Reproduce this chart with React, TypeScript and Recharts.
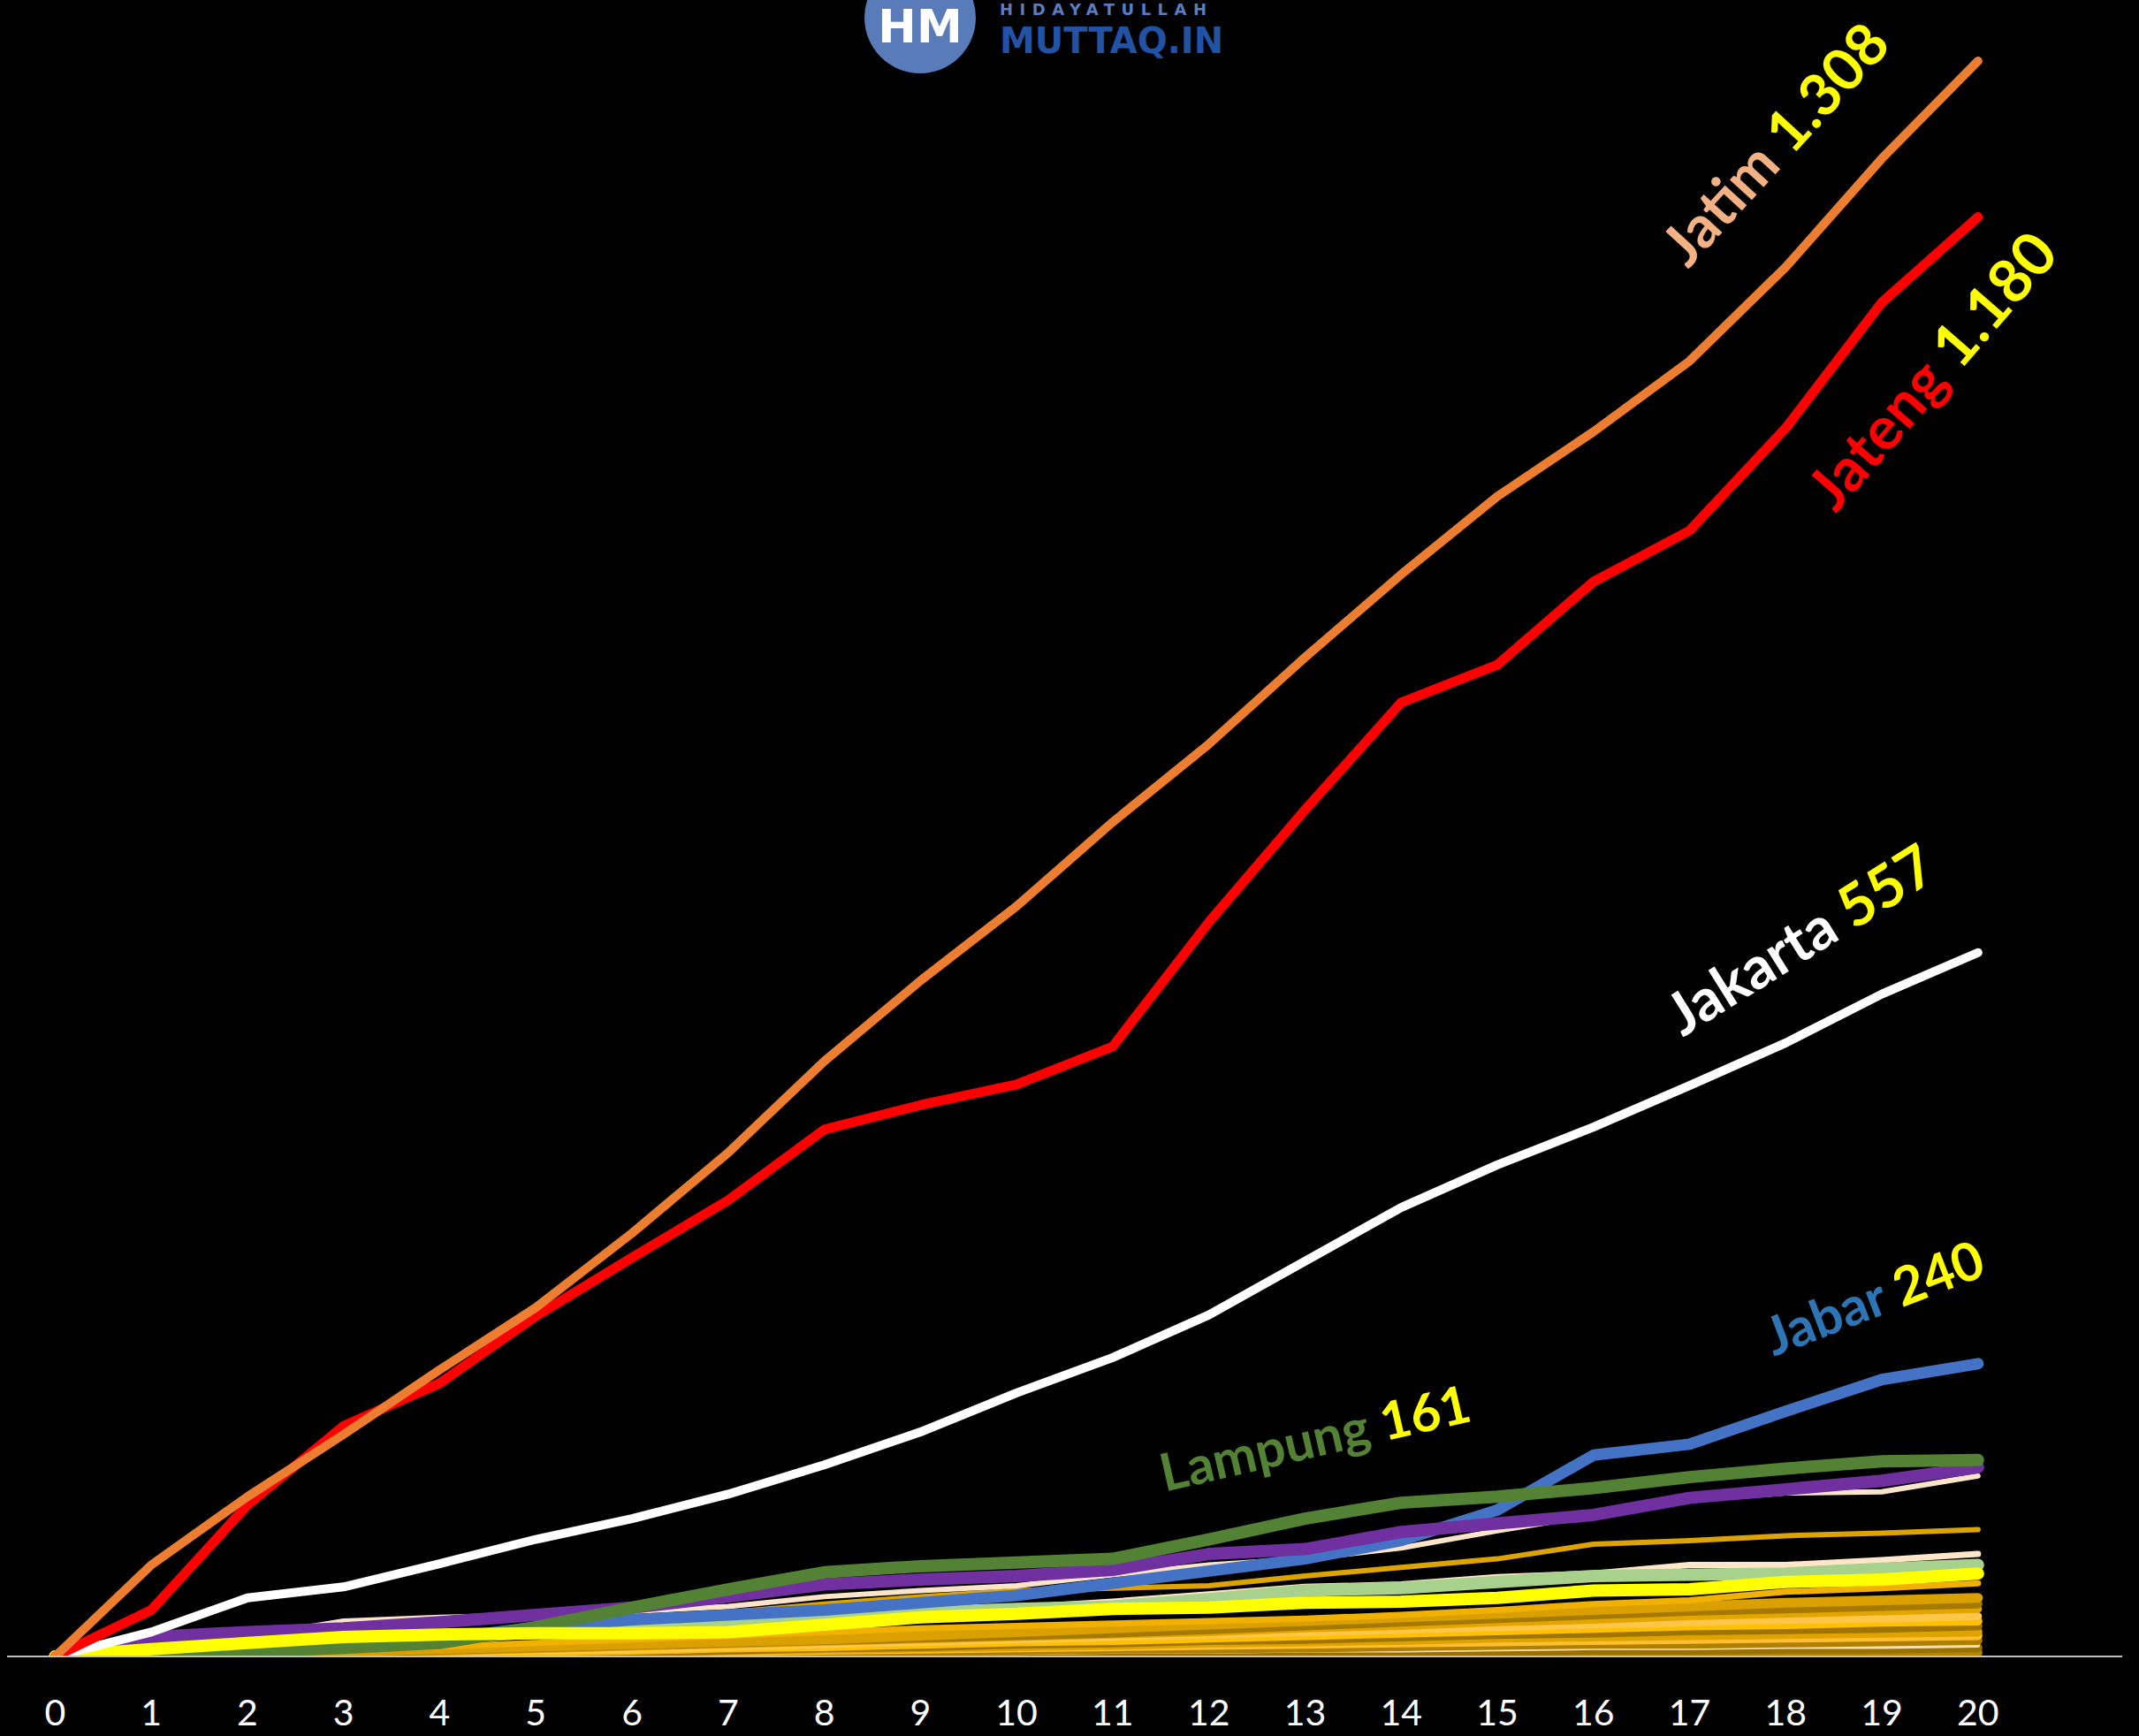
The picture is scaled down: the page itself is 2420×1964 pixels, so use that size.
import React from "react";
import { LineChart, Line, XAxis, YAxis, LabelList } from "recharts";

const W = 2420;
const H = 1964;
const PLOT_BOTTOM = 1874;

const days = [0, 1, 2, 3, 4, 5, 6, 7, 8, 9, 10, 11, 12, 13, 14, 15, 16, 17, 18, 19, 20];

const jatim = [0, 75, 131, 182, 235, 286, 347, 413, 488, 554, 615, 684, 748, 819, 887, 951, 1004, 1062, 1139, 1228, 1308];
const jateng = [0, 38, 124, 189, 224, 279, 327, 374, 432, 452, 469, 500, 602, 694, 782, 813, 881, 923, 1007, 1110, 1180];
const jakarta = [0, 20, 48, 57, 76, 96, 113, 133, 157, 184, 216, 245, 280, 324, 368, 403, 434, 468, 503, 543, 577];
const jabar = [0, 3, 6, 9, 14, 24, 30, 34, 38, 44, 50, 60, 70, 80, 95, 120, 165, 174, 201, 227, 240];
const lampung = [0, 2, 4, 7, 11, 24, 40, 55, 69, 74, 77, 80, 96, 113, 126, 131, 138, 147, 154, 160, 161];
const ungu = [0, 16, 20, 23, 28, 34, 40, 49, 59, 63, 66, 71, 84, 88, 102, 109, 116, 130, 137, 144, 155];
const krem1 = [0, 8, 16, 29, 32, 34, 37, 41, 49, 54, 58, 67, 75, 80, 89, 103, 116, 128, 134, 135, 148];
const emas1 = [0, 7, 10, 14, 17, 22, 28, 36, 43, 49, 54, 56, 58, 66, 73, 80, 92, 95, 99, 101, 104];
const krem2 = [0, 5, 9, 12, 16, 19, 23, 27, 31, 35, 40, 45, 51, 57, 59, 65, 68, 75, 75, 79, 84];
const hijauMuda = [0, 4, 8, 11, 15, 20, 26, 28, 31, 36, 39, 41, 47, 54, 56, 61, 66, 67, 68, 72, 75];
const kuning = [0, 6, 11, 16, 18, 19, 19, 20, 26, 32, 35, 39, 40, 44, 45, 48, 54, 55, 61, 63, 68];
const emas2 = [0, 2, 4, 6, 8, 11, 14, 17, 20, 23, 25, 27, 29, 31, 34, 38, 43, 46, 53, 56, 60];
const g3 = [0, 1, 2, 4, 6, 8, 10, 12, 14, 17, 20, 23, 26, 29, 32, 35, 38, 41, 44, 46, 48];
const g4 = [0, 1, 2, 3, 5, 7, 9, 11, 13, 15, 17, 19, 22, 25, 28, 31, 34, 37, 39, 41, 43];
const g5 = [0, 1, 2, 3, 4, 6, 8, 10, 12, 14, 16, 18, 20, 23, 25, 28, 30, 33, 35, 37, 39];
const g6 = [0, 1, 1, 2, 3, 5, 6, 8, 10, 12, 14, 16, 18, 20, 22, 24, 26, 28, 30, 31, 33];
const g7 = [0, 0, 1, 2, 3, 4, 5, 7, 8, 10, 12, 13, 15, 17, 19, 21, 23, 25, 26, 28, 29];
const g8 = [0, 0, 1, 2, 2, 3, 4, 5, 7, 8, 10, 11, 13, 14, 16, 18, 19, 21, 22, 23, 25];
const g9 = [0, 0, 1, 1, 2, 3, 4, 5, 6, 7, 8, 9, 11, 12, 13, 15, 16, 17, 18, 19, 20];
const g10 = [0, 0, 0, 1, 1, 2, 3, 4, 5, 6, 7, 8, 9, 10, 11, 12, 13, 14, 15, 16, 17];
const g11 = [0, 0, 0, 1, 1, 2, 2, 3, 3, 4, 5, 6, 6, 7, 8, 9, 10, 10, 11, 12, 13];
const g12 = [0, 0, 0, 0, 1, 1, 1, 2, 2, 3, 3, 4, 4, 5, 5, 6, 7, 7, 8, 8, 9];
const g13 = [0, 0, 0, 0, 0, 1, 1, 1, 2, 2, 2, 3, 3, 4, 4, 4, 5, 5, 6, 6, 7];
const g14 = [0, 0, 0, 0, 0, 0, 0, 1, 1, 1, 1, 1, 2, 2, 2, 2, 2, 3, 3, 3, 3];
const g15 = [0, 0, 0, 0, 0, 0, 0, 0, 0, 0, 0, 0, 0, 0, 0, 1, 1, 1, 1, 1, 1];

const seriesValues: Record<string, number[]> = {
  jatim, jateng, jakarta, jabar, lampung, ungu, krem1, emas1, krem2, hijauMuda, kuning, emas2,
  g3, g4, g5, g6, g7, g8, g9, g10, g11, g12, g13, g14, g15,
};

const data = days.map((d, i) => {
  const row: Record<string, number> = { day: d };
  Object.keys(seriesValues).forEach((k) => {
    row[k] = seriesValues[k][i];
  });
  return row;
});

// draw order: first = bottom
const lineStyles: { key: string; color: string; width: number }[] = [
  { key: "g15", color: "#FFD27F", width: 7 },
  { key: "g14", color: "#B38600", width: 10 },
  { key: "g13", color: "#9A7000", width: 10 },
  { key: "g12", color: "#FFE0B0", width: 5 },
  { key: "g11", color: "#AE7F00", width: 10 },
  { key: "g10", color: "#FFBF30", width: 10 },
  { key: "g9", color: "#DFA300", width: 10 },
  { key: "g8", color: "#A07400", width: 10 },
  { key: "g7", color: "#FFC000", width: 10 },
  { key: "g6", color: "#FFC64A", width: 9 },
  { key: "g5", color: "#E3A600", width: 9 },
  { key: "g4", color: "#A67A00", width: 10 },
  { key: "g3", color: "#D9A000", width: 11 },
  { key: "emas2", color: "#F2B000", width: 7 },
  { key: "krem2", color: "#FFE6C8", width: 7 },
  { key: "hijauMuda", color: "#A9D18E", width: 14 },
  { key: "emas1", color: "#DDA400", width: 6 },
  { key: "krem1", color: "#FCE4CA", width: 6 },
  { key: "jabar", color: "#4472C4", width: 13 },
  { key: "ungu", color: "#7030A0", width: 14 },
  { key: "lampung", color: "#548235", width: 14 },
  { key: "kuning", color: "#FFFF00", width: 14 },
  { key: "jakarta", color: "#FFFFFF", width: 10 },
  { key: "jateng", color: "#FF0000", width: 11 },
  { key: "jatim", color: "#ED7D31", width: 10 },
];

type LabelCfg = {
  name: string;
  value: string;
  color: string;
  index: number;
  dx: number;
  dy: number;
  angle: number;
  size: number;
};

const labelCfgs: Record<string, LabelCfg> = {
  jatim: { name: "Jatim", value: "1.308", color: "#F4B183", index: 20, dx: -328, dy: 236, angle: -47.5, size: 66 },
  jateng: { name: "Jateng", value: "1.180", color: "#FF0000", index: 20, dx: -161, dy: 336, angle: -49, size: 68 },
  jakarta: { name: "Jakarta", value: "557", color: "#FFFFFF", index: 20, dx: -334, dy: 96, angle: -32, size: 66 },
  jabar: { name: "Jabar", value: "240", color: "#2E75B6", index: 20, dx: -231, dy: -8, angle: -21, size: 60 },
  lampung: { name: "Lampung", value: "161", color: "#548235", index: 20, dx: -920, dy: 36, angle: -13, size: 59 },
};

const makeLabel = (cfg: LabelCfg) => (props: any) => {
  if (props.index !== cfg.index) return null;
  const x = Number(props.x) + cfg.dx;
  const y = Number(props.y) + cfg.dy;
  return (
    <text
      x={x}
      y={y}
      transform={`rotate(${cfg.angle} ${x} ${y})`}
      fontFamily="Lato, 'Noto Sans', sans-serif"
      fontWeight="bold"
      fontSize={cfg.size}
    >
      <tspan fill={cfg.color}>{`${cfg.name} `}</tspan>
      <tspan fill="#FFFF00">{cfg.value}</tspan>
    </text>
  );
};

const XTick = (props: any) => {
  const { x, payload } = props;
  return (
    <text
      x={x}
      y={PLOT_BOTTOM + 78}
      textAnchor="middle"
      fill="#FFFFFF"
      fontFamily="Lato, 'Noto Sans', sans-serif"
      fontSize={41}
    >
      {payload.value}
    </text>
  );
};

const Logo = () => (
  <svg
    width={W}
    height={H}
    style={{ position: "absolute", left: 0, top: 0, pointerEvents: "none" }}
  >
    <circle cx={1041} cy={20} r={63} fill="#5A7BBA" />
    <text
      x={1041}
      y={48}
      textAnchor="middle"
      fontFamily="'DejaVu Sans', sans-serif"
      fontWeight="bold"
      fontSize={52}
      fill="#FFFFFF"
    >
      HM
    </text>
    <text
      x={1131}
      y={17}
      fontFamily="'DejaVu Sans', sans-serif"
      fontWeight="bold"
      fontSize={18}
      letterSpacing={7.5}
      fill="#5B7DBF"
    >
      HIDAYATULLAH
    </text>
    <text
      x={1131}
      y={60}
      fontFamily="'DejaVu Sans', sans-serif"
      fontWeight="bold"
      fontSize={40}
      fill="#2152A3"
    >
      MUTTAQ.IN
    </text>
  </svg>
);

export default function App() {
  return (
    <div
      style={{
        position: "absolute",
        left: 0,
        top: 0,
        width: W,
        height: H,
        background: "#000000",
        overflow: "hidden",
      }}
    >
      <LineChart
        width={W}
        height={H}
        data={data}
        margin={{ top: 11, right: 19, bottom: 30, left: 8 }}
      >
        <XAxis
          dataKey="day"
          type="number"
          domain={[-0.5, 21.5]}
          ticks={days}
          interval={0}
          tickLine={false}
          axisLine={{ stroke: "#BFBFBF", strokeWidth: 2 }}
          tick={<XTick />}
          height={60}
        />
        <YAxis hide width={0} type="number" domain={[0, 1350]} allowDataOverflow />
        {lineStyles.map((s) => (
          <Line
            key={s.key}
            dataKey={s.key}
            type="linear"
            stroke={s.color}
            strokeWidth={s.width}
            strokeLinecap="round"
            strokeLinejoin="round"
            dot={false}
            activeDot={false}
            isAnimationActive={false}
          >
            {labelCfgs[s.key] ? (
              <LabelList dataKey={s.key} content={makeLabel(labelCfgs[s.key])} />
            ) : null}
          </Line>
        ))}
      </LineChart>
      <Logo />
    </div>
  );
}
